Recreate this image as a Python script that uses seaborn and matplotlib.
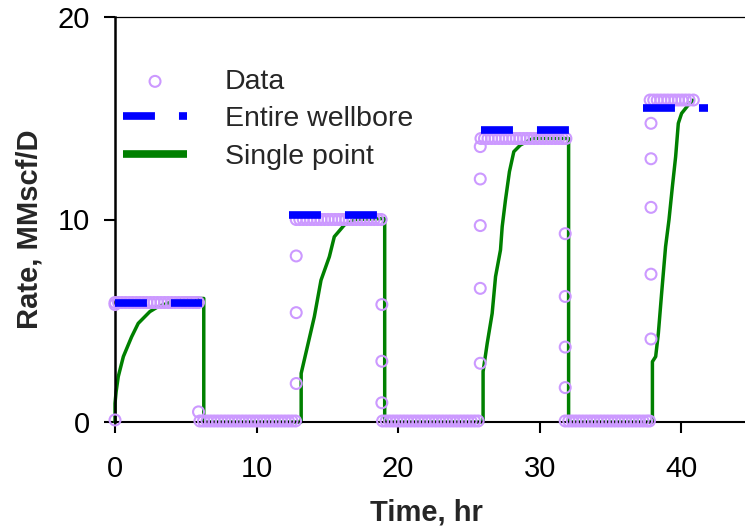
import matplotlib
matplotlib.use("Agg")
import matplotlib.pyplot as plt
import seaborn as sns

# ---- Data ----
# Measured sample times along each plateau / shut-in
p1_time = [0.0, 0.25, 0.5, 0.75, 1.0, 1.25, 1.5, 1.75, 2.0, 2.25, 2.5, 2.75, 3.0, 3.25,
           3.5, 3.75, 4.0, 4.25, 4.5, 4.75, 5.0, 5.25, 5.5, 5.75, 5.9]
s1_time = [6.0, 6.25, 6.5, 6.75, 7.0, 7.25, 7.5, 7.75, 8.0, 8.25, 8.5, 8.75, 9.0, 9.25,
           9.5, 9.75, 10.0, 10.25, 10.5, 10.75, 11.0, 11.25, 11.5, 11.75, 12.0, 12.25,
           12.5, 12.75]
p2_time = [12.8, 13.05, 13.3, 13.55, 13.8, 14.05, 14.3, 14.55, 14.8, 15.05, 15.3, 15.55,
           15.8, 16.05, 16.3, 16.55, 16.8, 17.05, 17.3, 17.55, 17.8, 18.05, 18.3, 18.55, 18.8]
s2_time = [18.9, 19.15, 19.4, 19.65, 19.9, 20.15, 20.4, 20.65, 20.9, 21.15, 21.4, 21.65,
           21.9, 22.15, 22.4, 22.65, 22.9, 23.15, 23.4, 23.65, 23.9, 24.15, 24.4, 24.65,
           24.9, 25.15, 25.4, 25.65]
p3_time = [25.85, 26.1, 26.35, 26.6, 26.85, 27.1, 27.35, 27.6, 27.85, 28.1, 28.35, 28.6,
           28.85, 29.1, 29.35, 29.6, 29.85, 30.1, 30.35, 30.6, 30.85, 31.1, 31.35, 31.6, 31.85]
s3_time = [31.8, 32.05, 32.3, 32.55, 32.8, 33.05, 33.3, 33.55, 33.8, 34.05, 34.3, 34.55,
           34.8, 35.05, 35.3, 35.55, 35.8, 36.05, 36.3, 36.55, 36.8, 37.05, 37.3, 37.55, 37.75]
p4_time = [37.8, 38.05, 38.3, 38.55, 38.8, 39.05, 39.3, 39.55, 39.8, 40.05, 40.3, 40.55, 40.85]
plateau_times = [p1_time, s1_time, p2_time, s2_time, p3_time, s3_time, p4_time]
plateau_rates = [5.9, 0.05, 10.0, 0.05, 14.0, 0.05, 15.9]

# Transition samples (time, rate)
edge_time = [0.0, 0.0, 5.9,
             12.8, 12.8, 12.8,
             18.85, 18.85, 18.85,
             25.8, 25.8, 25.8, 25.8, 25.8,
             31.8, 31.8, 31.8, 31.8,
             37.86, 37.86, 37.86, 37.86, 37.86]
edge_rate = [0.1, 5.8, 0.5,
             1.9, 5.4, 8.2,
             5.8, 3.0, 0.95,
             2.9, 6.6, 9.7, 12.0, 13.6,
             9.3, 6.2, 3.7, 1.7,
             4.1, 7.3, 10.6, 13.0, 14.75]

single_time = [0.0, 0.0, 0.08, 0.23, 0.59, 1.17, 1.64, 2.46, 3.05, 4.7, 6.27, 6.27,
               13.15, 13.15, 14.08, 14.55, 15.14, 15.49, 16.2, 17.0, 19.05, 19.05,
               26.0, 26.0, 26.29, 26.64, 26.88, 27.23, 27.35, 27.58, 27.86, 28.17, 28.64, 29.5, 32.04, 32.04,
               37.96, 37.96, 38.19, 38.38, 38.61, 38.89, 39.13, 39.37, 39.6, 39.79, 40.02, 40.49, 40.85]
single_rate = [0.0, 0.92, 1.5, 2.24, 3.23, 4.2, 4.87, 5.45, 5.7, 6.1, 6.1, 0.0,
               0.0, 2.4, 5.2, 7.0, 8.16, 9.15, 9.73, 10.0, 10.05, 0.0,
               0.0, 2.49, 3.88, 5.36, 7.18, 8.5, 9.65, 10.96, 12.36, 13.35, 13.68, 14.0, 14.0, 0.0,
               0.0, 2.98, 3.23, 4.38, 6.35, 8.66, 9.98, 11.62, 13.1, 14.75, 15.24, 15.65, 15.9]

wellbore_time = [0.0, 6.15, 12.3, 19.0, 25.87, 32.04, 37.27, 41.9]
wellbore_rate = [5.86, 5.86, 10.2, 10.2, 14.42, 14.42, 15.5, 15.5]
wellbore_seg = [1, 1, 2, 2, 3, 3, 4, 4]

x_ticks = [0, 10, 20, 30, 40]
y_ticks = [0, 10, 20]

# build data table
data_time = []
data_rate = []
for times, level in zip(plateau_times, plateau_rates):
    data_time += times
    data_rate += [level] * len(times)
data_time += edge_time
data_rate += edge_rate

# ---- Style ----
sns.set_style("white")
plt.rcParams["font.family"] = ["Liberation Sans", "DejaVu Sans"]
plt.rcParams["lines.scale_dashes"] = False

fig = plt.figure(figsize=(7.45, 5.26), dpi=100)
ax = fig.add_axes([115 / 745, 104 / 526, 630 / 745, 405 / 526])

sns.lineplot(x=single_time, y=single_rate, sort=False, estimator=None,
             color="#008000", linewidth=2.5, ax=ax, zorder=2, clip_on=False)
green_line = ax.lines[-1]

sns.scatterplot(x=data_time, y=data_rate, marker="o", s=62, ax=ax,
                zorder=3, clip_on=False)
data_coll = ax.collections[-1]
data_coll.set_facecolor("none")
data_coll.set_edgecolor("#CC99FF")
data_coll.set_linewidth(1.5)

n_before = len(ax.lines)
sns.lineplot(x=wellbore_time, y=wellbore_rate, units=wellbore_seg, estimator=None,
             sort=False, color="#0000FF", linewidth=5.5, ax=ax, zorder=4, clip_on=False)
blue_lines = ax.lines[n_before:]
for ln in blue_lines:
    ln.set_dashes((23.0, 17.3))
    ln.set_dash_capstyle("butt")

ax.set_xlim(0, 44.5)
ax.set_ylim(0, 20)
ax.set_xticks(x_ticks)
ax.set_yticks(y_ticks)

for side in ["left", "bottom", "top", "right"]:
    ax.spines[side].set_color("black")
ax.spines["left"].set_linewidth(1.8)
ax.spines["bottom"].set_linewidth(1.5)
ax.spines["top"].set_linewidth(0.9)
ax.spines["right"].set_visible(False)

ax.tick_params(axis="both", direction="out", length=8, width=1.5, labelsize=21,
               colors="black")
ax.tick_params(axis="x", pad=16, bottom=True, top=False)
ax.tick_params(axis="y", pad=10, left=True, right=False)

ax.set_xlabel("Time, hr", fontsize=21, fontweight="bold")
ax.set_ylabel("Rate, MMscf/D", fontsize=21, fontweight="bold")
ax.xaxis.set_label_coords(0.494, -0.188)
ax.yaxis.set_label_coords(-0.114, 0.4765)

leg = ax.legend(handles=[data_coll, blue_lines[0], green_line],
                labels=["Data", "Entire wellbore", "Single point"],
                loc="upper left", bbox_to_anchor=(0.0127, 0.872), frameon=False,
                fontsize=20.5, borderaxespad=0, borderpad=0, handlelength=2.25,
                handletextpad=1.33, labelspacing=0.4, scatterpoints=1)
# the legend sample for "Single point" is drawn thicker than the plotted line
for lh in leg.legend_handles:
    if hasattr(lh, "get_color") and lh.get_color() == "#008000":
        lh.set_linewidth(5.5)
        lh.set_solid_capstyle("butt")

fig.savefig("out.png", dpi=100, facecolor="white")
